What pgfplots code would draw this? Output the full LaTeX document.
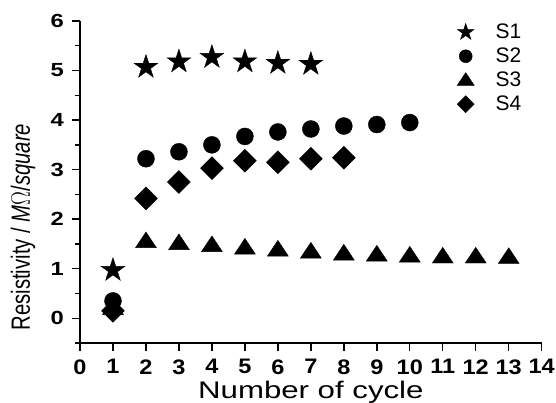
\documentclass[border=0pt]{standalone}
\usepackage{fontspec}
\setmainfont{Liberation Sans}
\usepackage{pgfplots}
\pgfplotsset{compat=1.18}
\pgfdeclareplotmark{fstar}{%
  \pgfpathmoveto{\pgfpointpolar{90}{\pgfplotmarksize}}%
  \pgfpathlineto{\pgfpointpolar{126}{0.382\pgfplotmarksize}}%
  \pgfpathlineto{\pgfpointpolar{162}{\pgfplotmarksize}}%
  \pgfpathlineto{\pgfpointpolar{198}{0.382\pgfplotmarksize}}%
  \pgfpathlineto{\pgfpointpolar{234}{\pgfplotmarksize}}%
  \pgfpathlineto{\pgfpointpolar{270}{0.382\pgfplotmarksize}}%
  \pgfpathlineto{\pgfpointpolar{306}{\pgfplotmarksize}}%
  \pgfpathlineto{\pgfpointpolar{342}{0.382\pgfplotmarksize}}%
  \pgfpathlineto{\pgfpointpolar{18}{\pgfplotmarksize}}%
  \pgfpathlineto{\pgfpointpolar{54}{0.382\pgfplotmarksize}}%
  \pgfpathclose
  \pgfusepathqfillstroke}
\pgfplotsset{
  legA/.style={legend image code/.code={\path[draw=none,fill=none] (0pt,-12pt) rectangle (36pt,12pt); \draw[##1, mark size=8.8pt] plot coordinates {(8pt,0pt)};}},
  legB/.style={legend image code/.code={\path[draw=none,fill=none] (0pt,-12pt) rectangle (36pt,12pt); \draw[##1, mark size=6.5pt] plot coordinates {(8pt,0pt)};}},
  legC/.style={legend image code/.code={\path[draw=none,fill=none] (0pt,-12pt) rectangle (36pt,12pt); \draw[##1, mark size=8.6pt] plot coordinates {(8pt,-1pt)};}},
  legD/.style={legend image code/.code={\path[draw=none,fill=none] (0pt,-12pt) rectangle (36pt,12pt); \draw[##1, mark size=6pt] plot coordinates {(8pt,0pt)};}},
}
\begin{document}
\begin{tikzpicture}
\begin{axis}[
  scale only axis,
  width=461.7pt, height=322pt,
  xmin=0, xmax=14, ymin=-0.5, ymax=6,
  axis lines=left,
  axis line style={line width=1.6pt, -},
  xtick={0,1,...,14},
  ytick={0,1,...,6},
  minor ytick={-0.5,0.5,1.5,2.5,3.5,4.5,5.5},
  tick align=outside,
  major tick length=8pt,
  minor tick length=4.5pt,
  tick style={line width=1.4pt, black},
  /pgf/number format/assume math mode=true,
  xticklabel style={font=\bfseries\fontsize{21}{21}\selectfont, xscale=1.12, yshift=-5pt},
  yticklabel style={font=\bfseries\fontsize{19}{19}\selectfont, xscale=1.25, xshift=-3pt},
  xlabel={Number of cycle},
  every axis x label/.style={at={(axis description cs:0.5,-0.171)}, anchor=base,
    font=\fontsize{24}{24}\selectfont, xscale=1.3},
  legend style={draw=none, fill=none, at={(axis cs:11.43,6.02)}, anchor=north west,
    font=\fontsize{21}{22}\selectfont, row sep=0pt, inner sep=0pt},
  legend cell align=left,
  clip=false,
]
\addplot[only marks, mark=fstar, mark size=12.5pt, black, legA] coordinates {
(1,0.97) (2,5.07) (3,5.18) (4,5.27) (5,5.18) (6,5.15) (7,5.13)};
\addlegendentry{S1}
\addplot[only marks, mark=*, mark size=8.5pt, black, legB] coordinates {
(1,0.35) (2,3.22) (3,3.36) (4,3.5) (5,3.67) (6,3.76) (7,3.82) (8,3.88) (9,3.91) (10,3.95)};
\addlegendentry{S2}
\addplot[only marks, mark=triangle*, mark size=10.5pt, mark options={xscale=1.15}, black, legC] coordinates {
(1,0.18) (2,1.53) (3,1.49) (4,1.45) (5,1.40) (6,1.36) (7,1.32) (8,1.28) (9,1.26) (10,1.24) (11,1.22) (12,1.22) (13,1.21)};
\addlegendentry{S3}
\addplot[only marks, mark=square*, mark size=8.1pt, mark options={rotate=45}, black, legD] coordinates {
(1,0.15) (2,2.42) (3,2.75) (4,3.03) (5,3.18) (6,3.15) (7,3.22) (8,3.24)};
\addlegendentry{S4}
\node[rotate=90, yscale=1.3, anchor=center, inner sep=0pt, font=\fontsize{20.3}{20.3}\selectfont]
  at (axis description cs:-0.1235,0.36) {Resistivity / \textit{M$\Omega$}/\textit{square}};
\end{axis}
\pgfresetboundingbox
\path (current axis.south west) ++(-80pt,-59pt) rectangle ++(556pt,402pt);
\end{tikzpicture}
\end{document}
